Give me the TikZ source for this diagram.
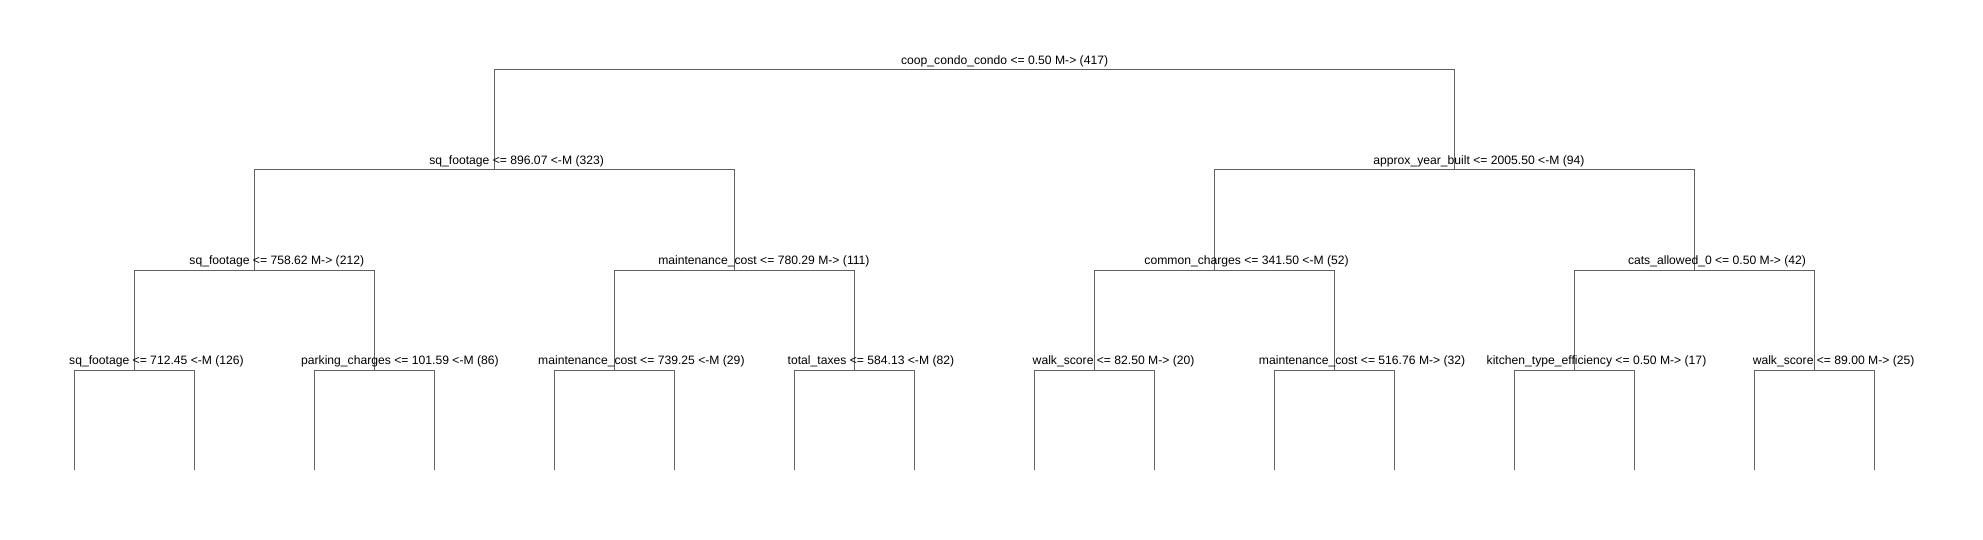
\documentclass[tikz,border=0pt]{standalone}
\usepackage{fontspec}
\setmainfont{Liberation Sans}
\begin{document}
\begin{tikzpicture}[x=1pt,y=-1pt,
  edge/.style={draw=black!62,line width=1pt},
  lab/.style={anchor=base,inner sep=0pt,text=black,font=\fontsize{12.15}{14}\selectfont}]
\useasboundingbox (0,0) rectangle (1983,540);
% internal nodes
\coordinate (n1) at (974,70);
\coordinate (n2) at (494,170);
\coordinate (n3) at (1454,170);
\coordinate (n4) at (254,270);
\coordinate (n5) at (734,270);
\coordinate (n6) at (1214,270);
\coordinate (n7) at (1694,270);
\coordinate (n8) at (134,370);
\coordinate (n9) at (374,370);
\coordinate (n10) at (614,370);
\coordinate (n11) at (854,370);
\coordinate (n12) at (1094,370);
\coordinate (n13) at (1334,370);
\coordinate (n14) at (1574,370);
\coordinate (n15) at (1814,370);
% leaves
\coordinate (l1) at (74,470);
\coordinate (l2) at (194,470);
\coordinate (l3) at (314,470);
\coordinate (l4) at (434,470);
\coordinate (l5) at (554,470);
\coordinate (l6) at (674,470);
\coordinate (l7) at (794,470);
\coordinate (l8) at (914,470);
\coordinate (l9) at (1034,470);
\coordinate (l10) at (1154,470);
\coordinate (l11) at (1274,470);
\coordinate (l12) at (1394,470);
\coordinate (l13) at (1514,470);
\coordinate (l14) at (1634,470);
\coordinate (l15) at (1754,470);
\coordinate (l16) at (1874,470);
% edges
\draw[edge] (n1) -| (n2);
\draw[edge] (n1) -| (n3);
\draw[edge] (n2) -| (n4);
\draw[edge] (n2) -| (n5);
\draw[edge] (n3) -| (n6);
\draw[edge] (n3) -| (n7);
\draw[edge] (n4) -| (n8);
\draw[edge] (n4) -| (n9);
\draw[edge] (n5) -| (n10);
\draw[edge] (n5) -| (n11);
\draw[edge] (n6) -| (n12);
\draw[edge] (n6) -| (n13);
\draw[edge] (n7) -| (n14);
\draw[edge] (n7) -| (n15);
\draw[edge] (n8) -| (l1);
\draw[edge] (n8) -| (l2);
\draw[edge] (n9) -| (l3);
\draw[edge] (n9) -| (l4);
\draw[edge] (n10) -| (l5);
\draw[edge] (n10) -| (l6);
\draw[edge] (n11) -| (l7);
\draw[edge] (n11) -| (l8);
\draw[edge] (n12) -| (l9);
\draw[edge] (n12) -| (l10);
\draw[edge] (n13) -| (l11);
\draw[edge] (n13) -| (l12);
\draw[edge] (n14) -| (l13);
\draw[edge] (n14) -| (l14);
\draw[edge] (n15) -| (l15);
\draw[edge] (n15) -| (l16);
% labels
\node[lab] (t1) at (1004.6,64.5) {coop\_condo\_condo <= 0.50 M-> (417)};
\node[lab] (t2) at (516.6,164.5) {sq\_footage <= 896.07 <-M (323)};
\node[lab] (t3) at (1478.9,164.5) {approx\_year\_built <= 2005.50 <-M (94)};
\node[lab] (t4) at (276.8,264.5) {sq\_footage <= 758.62 M-> (212)};
\node[lab] (t5) at (763.9,264.5) {maintenance\_cost <= 780.29 M-> (111)};
\node[lab] (t6) at (1246.6,264.5) {common\_charges <= 341.50 <-M (52)};
\node[lab] (t7) at (1717,264.5) {cats\_allowed\_0 <= 0.50 M-> (42)};
\node[lab] (t8) at (156.5,364.5) {sq\_footage <= 712.45 <-M (126)};
\node[lab] (t9) at (399.9,364.5) {parking\_charges <= 101.59 <-M (86)};
\node[lab] (t10) at (641.4,364.5) {maintenance\_cost <= 739.25 <-M (29)};
\node[lab] (t11) at (870.9,364.5) {total\_taxes <= 584.13 <-M (82)};
\node[lab] (t12) at (1113.6,364.5) {walk\_score <= 82.50 M-> (20)};
\node[lab] (t13) at (1362.1,364.5) {maintenance\_cost <= 516.76 M-> (32)};
\node[lab] (t14) at (1596.5,364.5) {kitchen\_type\_efficiency <= 0.50 M-> (17)};
\node[lab] (t15) at (1833.6,364.5) {walk\_score <= 89.00 M-> (25)};
\end{tikzpicture}
\end{document}
